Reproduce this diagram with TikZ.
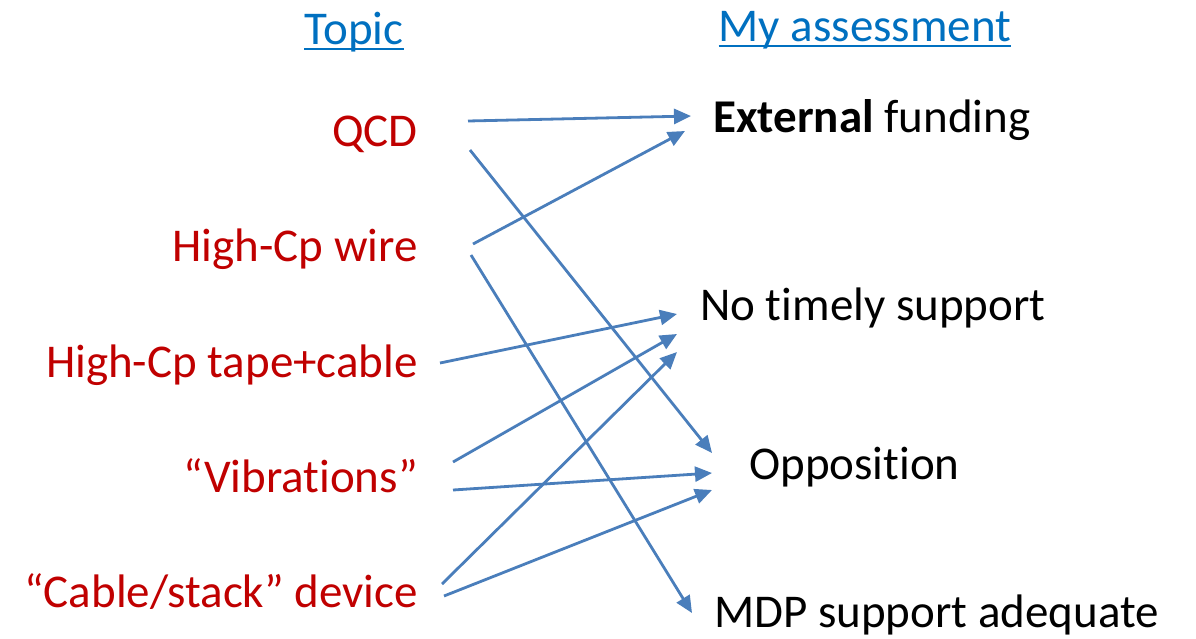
\documentclass[tikz,border=0pt]{standalone}
\usepackage{fontspec}
\setmainfont[Ligatures=NoCommon]{Carlito}
\usepackage{tikz}
\usetikzlibrary{arrows.meta}
\definecolor{topicred}{HTML}{C00000}
\definecolor{headblue}{HTML}{0070C0}
\definecolor{linkblue}{HTML}{4A7EBB}
\tikzset{topic/.style={anchor=base east,inner sep=0pt,text=topicred,font=\fontsize{47}{56}\selectfont},
         verdict/.style={anchor=base west,inner sep=0pt,text=black,font=\fontsize{47}{56}\selectfont},
         heading/.style={anchor=base,inner sep=0pt,text=headblue,font=\fontsize{47}{56}\selectfont},
         link/.style={draw=linkblue,line width=2.8pt,-{Triangle[length=17pt,width=15pt]}}}

\begin{document}
\begin{tikzpicture}[x=1pt,y=-1pt]
\useasboundingbox (0,0) rectangle (1196,638);
% column headings
\node[heading] (topichd) at (354,44) {Topic};
\node[heading] (assesshd) at (865,41) {My assessment};
\draw[headblue,line width=2.2pt] ([yshift=-5pt]topichd.base west)--([yshift=-5pt]topichd.base east);
\draw[headblue,line width=2.2pt] ([yshift=-5pt]assesshd.base west)--([yshift=-5pt]assesshd.base east);
% topics
\node[topic] (qcd) at (418,146) {QCD};
\node[topic] (wire) at (418,261) {High-Cp wire};
\node[topic] (tape) at (418,377) {High-Cp tape+cable};
\node[topic] (vib) at (418,492) {“Vibrations”};
\node[topic] (stack) at (418,607) {“Cable/stack” device};
% assessments
\node[verdict] (ext) at (713,132) {\textbf{External} funding};
\node[verdict] (notimely) at (700,320) {No timely support};
\node[verdict] (oppo) at (749,479) {Opposition};
\node[verdict] (mdp) at (714,627) {MDP support adequate};
% links
\foreach \a/\sa/\b/\sb in {qcd/{(50,-25)}/ext/{(-22,-16)},
                           qcd/{(52,4)}/oppo/{(-37,-26)},
                           wire/{(55,-17)}/ext/{(-28,-1)},
                           wire/{(53,-6)}/mdp/{(-22,-14)},
                           tape/{(22,-14)}/notimely/{(-23,-6)},
                           vib/{(35,-30)}/notimely/{(-23,14)},
                           vib/{(35,-2)}/oppo/{(-37,-6)},
                           stack/{(24,-23)}/notimely/{(-23,32)},
                           stack/{(26,-11)}/oppo/{(-37,11)}}
  \draw[link] ([shift={\sa}]\a.base east) -- ([shift={\sb}]\b.base west);
\end{tikzpicture}
\end{document}
